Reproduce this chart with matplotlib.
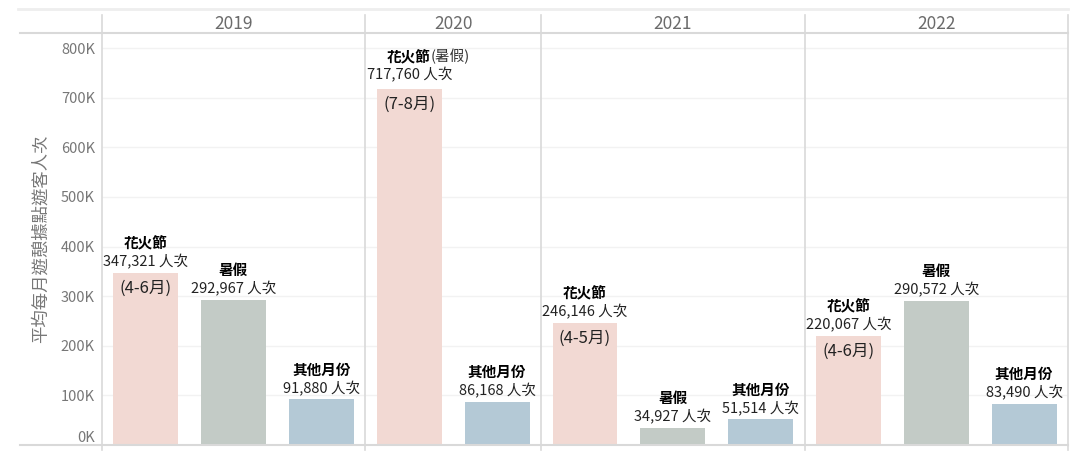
import matplotlib
matplotlib.use("Agg")
import matplotlib.pyplot as plt
from matplotlib.lines import Line2D

plt.rcParams['font.family'] = ['Noto Sans CJK TC', 'DejaVu Sans']

# Data
years = ["2019", "2020", "2021", "2022"]
categories = [
    ["花火節", "暑假", "其他月份"],
    ["花火節", "其他月份"],
    ["花火節", "暑假", "其他月份"],
    ["花火節", "暑假", "其他月份"],
]
values = [
    [347321, 292967, 91880],
    [717760, 86168],
    [246146, 34927, 51514],
    [220067, 290572, 83490],
]
festival_months = ["(4-6月)", "(7-8月)", "(4-5月)", "(4-6月)"]
yticks = [0, 100000, 200000, 300000, 400000, 500000, 600000, 700000, 800000]
ytick_labels = ["0K", "100K", "200K", "300K", "400K", "500K", "600K", "700K", "800K"]

colors = {"花火節": "#f2d9d3", "暑假": "#c3cbc6", "其他月份": "#b4c9d6"}

W, H = 1081, 466
fig = plt.figure(figsize=(W / 100, H / 100), dpi=100)


def fx(px):
    return px / W


def fy(py):
    return 1 - py / H


ax = fig.add_axes([fx(102), fy(445), fx(1068) - fx(102), fy(33) - fy(445)])

n_slots = sum(len(c) for c in categories)
px_per_unit = (445 - 48) / 800000

slot = 0
boundaries = []
for yi, (year, cats, vals) in enumerate(zip(years, categories, values)):
    start = slot
    for cat, v in zip(cats, vals):
        x = slot + 0.5
        ax.bar(x, v, width=0.74, color=colors[cat], zorder=2)
        if yi == 1 and cat == "花火節":
            ax.annotate("花火節", (x, v), xytext=(15, 23), textcoords="offset points",
                        ha="right", va="center", fontsize=10.5, fontweight="bold")
            ax.annotate("(暑假)", (x, v), xytext=(15, 23), textcoords="offset points",
                        ha="left", va="center", fontsize=10.5, color="#333333")
            val_off = 10
        else:
            ax.annotate(cat, (x, v), xytext=(0, 21.6), textcoords="offset points",
                        ha="center", va="center", fontsize=10.5, fontweight="bold")
            val_off = 8
        ax.annotate(f"{v:,} 人次", (x, v), xytext=(0, val_off), textcoords="offset points",
                    ha="center", va="center", fontsize=10.5, color="#222222")
        if cat == "花火節":
            ax.annotate(festival_months[yi], (x, v), xytext=(0, -11.5), textcoords="offset points",
                        ha="center", va="center", fontsize=12, color="#222222")
        slot += 1
    boundaries.append((start, slot))
    # year header
    fig.text(fx(102) + (start + slot) / 2 / n_slots * (fx(1068) - fx(102)), fy(24), year,
             ha="center", va="center", fontsize=12.5, color="#6b6b6b")

ax.set_xlim(0, n_slots)
ax.set_ylim(0, 800000 + 15 / px_per_unit)
ax.set_yticks(yticks)
ax.set_yticklabels(ytick_labels, fontsize=10.5, color="#777777")
ax.get_yticklabels()[0].set_va("bottom")
ax.tick_params(axis="y", length=0, pad=5)
ax.set_xticks([])
ax.set_ylabel("平均每月遊憩據點遊客人次", fontsize=12.5, color="#777777", labelpad=8)
ax.grid(axis="y", color="#f2f2f2", linewidth=1, zorder=0)
for s in ax.spines.values():
    s.set_visible(False)

# panel separators and frame lines
line_color = "#d9d9d9"
for b in [0] + [e for _, e in boundaries]:
    xp = 102 + b / n_slots * (1068 - 102)
    fig.add_artist(Line2D([fx(xp), fx(xp)], [fy(15), fy(450)], color=line_color, lw=1.2))
fig.add_artist(Line2D([fx(18), fx(1068)], [fy(8.5), fy(8.5)], color="#eeeeee", lw=2))
fig.add_artist(Line2D([fx(20), fx(1068)], [fy(33), fy(33)], color=line_color, lw=1.5))
fig.add_artist(Line2D([fx(20), fx(1068)], [fy(445), fy(445)], color=line_color, lw=1.5))

fig.savefig("out.png", dpi=100)
